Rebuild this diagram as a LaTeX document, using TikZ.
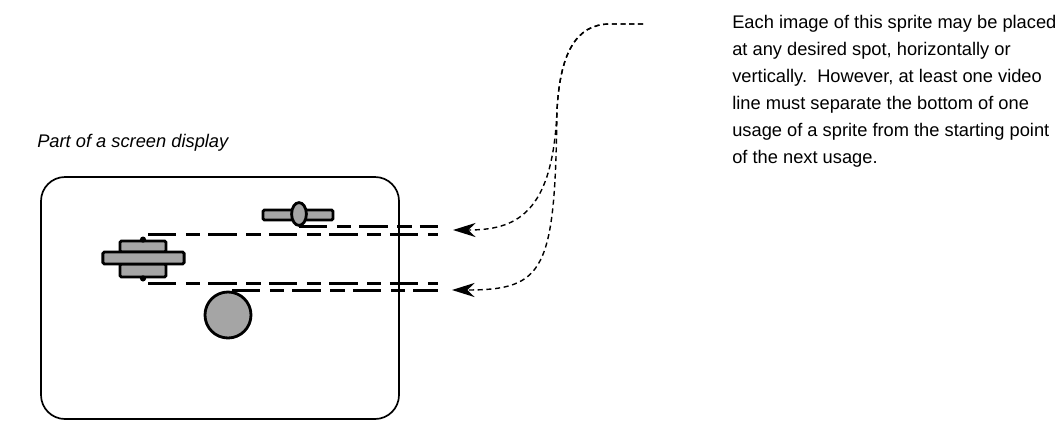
\documentclass[tikz,border=0pt]{standalone}
\usepackage{fontspec}
\setmainfont{Liberation Sans}
\usetikzlibrary{arrows.meta,shapes.geometric}
\definecolor{spritegray}{RGB}{165,165,165}

\begin{document}
\begin{tikzpicture}[x=0.025cm, y=-0.025cm,
  spritepart/.style={draw, line width=2pt, fill=spritegray, inner sep=0pt, rounded corners=1pt},
  scanline/.style={line width=2.2pt, dash pattern=on 20pt off 7pt on 10pt off 6pt},
  pointer/.style={line width=1pt, dash pattern=on 3.6pt off 2.6pt,
    -{Stealth[length=16pt, width=10pt, inset=5pt]}}]

  \useasboundingbox (0,0) rectangle (1057,422);

  % === SCREEN ===
  \node[font=\itshape\fontsize{13}{16}\selectfont, anchor=base west, inner sep=0pt]
    (caption) at (37,147) {Part of a screen display};
  \draw[line width=1.2pt, rounded corners=0.6cm]
    (41,177) rectangle (399,419);

  % Sprites
  \node[spritepart, minimum width=1.75cm, minimum height=0.25cm] (bar) at (298,215) {};
  \node[spritepart, ellipse, minimum width=0.37cm, minimum height=0.57cm] (pod) at (299,214) {};
  \node[spritepart, minimum width=1.15cm, minimum height=0.275cm] (upper) at (143,246.5) {};
  \node[spritepart, minimum width=1.15cm, minimum height=0.325cm] (lower) at (143,270.5) {};
  \node[spritepart, minimum width=2.03cm, minimum height=0.3cm] (wide) at (143.5,258) {};
  \node[spritepart, circle, minimum size=1.15cm] (ball) at (228,315) {};

  % Scan lines
  \coordinate (rim) at (438,0);
  \draw[scanline] (pod.south) -- (pod.south -| rim);
  \fill (upper.north) circle (2.2pt);
  \draw[scanline] (upper.north) ++(5,-5) coordinate (s2) -- (s2 -| rim);
  \fill (lower.south) circle (2.2pt);
  \draw[scanline] (lower.south) ++(5,5) coordinate (s3) -- (s3 -| rim);
  \draw[scanline] (ball.north) ++(4,0) coordinate (s4) -- (s4 -| rim);

  % === NOTE ===
  \node[anchor=north west, align=left, inner sep=0pt,
    font=\fontsize{13}{19.2}\selectfont] (note) at (732,15)
    {Each image of this sprite may be placed\\
     at any desired spot, horizontally or\\
     vertically.\ \ However, at least one video\\
     line must separate the bottom of one\\
     usage of a sprite from the starting point\\
     of the next usage.};

  \coordinate (tail) at (643,24);
  \coordinate (tip1) at (453,230);
  \coordinate (tip2) at (452,290);
  \draw[pointer] (tail) -- (610,24) .. controls (575,24) and (560,55) .. (557,110)
    .. controls (553,215) and (515,230) .. (tip1);
  \draw[pointer] (tail) -- (610,24) .. controls (575,24) and (560,55) .. (557,110)
    .. controls (555,270) and (545,290) .. (tip2);

\end{tikzpicture}
\end{document}
